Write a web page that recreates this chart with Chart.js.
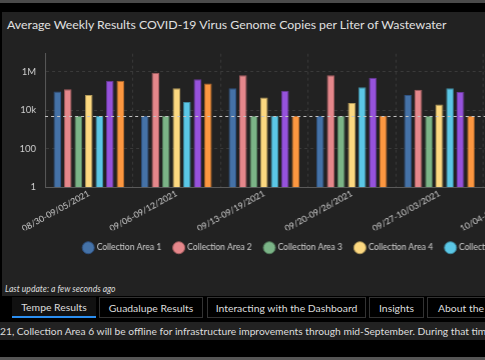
<!DOCTYPE html>
<html>
<head>
<meta charset="utf-8">
<script src="https://cdn.jsdelivr.net/npm/chart.js@4"></script>
<style>
  html, body { margin: 0; padding: 0; }
  body { width: 485px; height: 360px; background: #000; overflow: hidden; position: relative; font-family: Lato, "Noto Sans", sans-serif; }
  #topbar { position: absolute; left: 0; top: 0; width: 485px; height: 3px; background: #4a4a4a; }
  #panel { position: absolute; left: 2px; top: 12px; width: 483px; height: 284px; background: #222; overflow: hidden; }
  #title { position: absolute; left: 5px; top: 5px; color: #e0e0e0; font-size: 12.3px; white-space: nowrap; }
  #chartbox { position: absolute; left: 0; top: 27px; width: 783.5px; height: 223px; }
  #updated { position: absolute; left: 3px; top: 272px; color: #ddd; font-size: 8.6px; font-style: italic; white-space: nowrap; }
  .tab { position: absolute; top: 297px; height: 21px; line-height: 20px; color: #ddd; font-size: 10.4px; text-align: center; white-space: nowrap; box-sizing: border-box; border: 1px solid #333; background: #000; }
  #tab1 { left: 12px; width: 84px; border: none; border-bottom: 2px solid #2b8ef0; background: #111; }
  #note { position: absolute; left: 0; top: 322px; width: 485px; height: 18px; background: #222; color: #ddd; font-size: 10.25px; line-height: 18px; white-space: nowrap; overflow: hidden; }
  #bottomline { position: absolute; left: 0; top: 357px; width: 485px; height: 3px; background: #555; }
</style>
</head>
<body>
<div id="topbar"></div>
<div id="panel">
  <div id="title">Average Weekly Results COVID-19 Virus Genome Copies per Liter of Wastewater</div>
  <div id="chartbox"><canvas id="c"></canvas></div>
  <div id="updated">Last update: a few seconds ago</div>
</div>
<div class="tab" id="tab1">Tempe Results</div>
<div class="tab" style="left:99px;width:104px;">Guadalupe Results</div>
<div class="tab" style="left:207px;width:159px;">Interacting with the Dashboard</div>
<div class="tab" style="left:369px;width:55px;">Insights</div>
<div class="tab" style="left:427px;width:80px;text-align:left;padding-left:10px;">About the Data</div>
<div id="note">21, Collection Area 6 will be offline for infrastructure improvements through mid-September. During that time, results will not be reported.</div>
<div id="bottomline"></div>

<script>
// ---- data ----
const weeks = ["08/30-09/05/2021", "09/06-09/12/2021", "09/13-09/19/2021", "09/20-09/26/2021", "09/27-10/03/2021", "10/04-10/10/2021"];
const area1 = [96000, 5000, 140000, 5000, 62000, null];
const area2 = [126000, 910000, 670000, 670000, 117000, null];
const area3 = [5000, 5000, 5000, 5000, 5000, null];
const area4 = [62000, 140000, 47000, 24000, 20000, null];
const area5 = [5000, 27000, 5000, 157000, 140000, null];
const area6 = [350000, 410000, 104000, 500000, 89000, null];
const area7 = [350000, 245000, 5000, 5000, 5000, null];
const seriesNames = ["Collection Area 1", "Collection Area 2", "Collection Area 3", "Collection Area 4", "Collection Area 5", "Collection Area 6", "Collection Area 7"];
const yTickValues = [1, 100, 10000, 1000000];
const yTickLabels = ["1", "100", "10k", "1M"];
const detectionLimit = 5000;

const fills = ["#4572a7", "#e5878b", "#7bb487", "#fcd880", "#5bc7e6", "#9652dc", "#fd9740"];
const borders = ["#2f5282", "#a85f62", "#557f5e", "#b39a5a", "#3f8ca2", "#6a3a9c", "#b46a2c"];
const allSeries = [area1, area2, area3, area4, area5, area6, area7];

const limitLine = {
  id: 'limitLine',
  afterDatasetsDraw(chart) {
    const y = chart.scales.y.getPixelForValue(detectionLimit);
    const a = chart.chartArea;
    const ctx = chart.ctx;
    ctx.save();
    ctx.strokeStyle = '#c4c4c4';
    ctx.lineWidth = 1;
    ctx.setLineDash([3, 3]);
    ctx.beginPath();
    ctx.moveTo(a.left, Math.round(y) + 0.5);
    ctx.lineTo(a.right, Math.round(y) + 0.5);
    ctx.stroke();
    ctx.restore();
  }
};

new Chart(document.getElementById('c'), {
  type: 'bar',
  data: {
    labels: weeks,
    datasets: allSeries.map((d, i) => ({
      label: seriesNames[i],
      data: d,
      backgroundColor: fills[i],
      borderColor: borders[i],
      borderWidth: 1,
      categoryPercentage: 0.84,
      barPercentage: 0.72
    }))
  },
  options: {
    responsive: true,
    maintainAspectRatio: false,
    animation: false,
    layout: { padding: { top: 5, right: 0, left: 0, bottom: 0 } },
    plugins: {
      legend: {
        position: 'bottom',
        align: 'center',
        labels: {
          color: '#d0d0d0',
          font: { family: 'Lato', size: 8.5 },
          usePointStyle: true,
          pointStyle: 'circle',
          boxHeight: 8.5,
          boxWidth: 8.5,
          padding: 13.25
        }
      },
      tooltip: { enabled: false }
    },
    scales: {
      x: {
        grid: { display: true, offset: true, color: '#3a3a3a', drawTicks: false },
        border: { display: true, color: '#5a5a5a', dash: [3, 3] },
        ticks: { color: '#d0d0d0', font: { family: 'Lato', size: 8.7 }, minRotation: 29, maxRotation: 29, autoSkip: false, padding: 1 },
        afterFit(s) { s.height = 43; }
      },
      y: {
        type: 'logarithmic',
        min: 1,
        max: 8.8e6,
        grid: { color: '#3a3a3a', drawTicks: false },
        border: { display: true, color: '#5a5a5a', dash: [3, 3] },
        ticks: {
          color: '#d0d0d0',
          font: { family: 'Lato', size: 9.5 },
          padding: 9,
          callback(v) { const i = yTickValues.indexOf(v); return i >= 0 ? yTickLabels[i] : ''; }
        },
        afterBuildTicks(s) { s.ticks = yTickValues.map(v => ({ value: v })); },
        afterFit(s) { s.width = 43; }
      },
      spacer: {
        type: 'linear',
        position: 'right',
        display: true,
        grid: { display: false },
        border: { display: false },
        ticks: { display: false },
        afterFit(s) { s.width = 215.5; }
      }
    }
  },
  plugins: [limitLine]
});
</script>
</body>
</html>
